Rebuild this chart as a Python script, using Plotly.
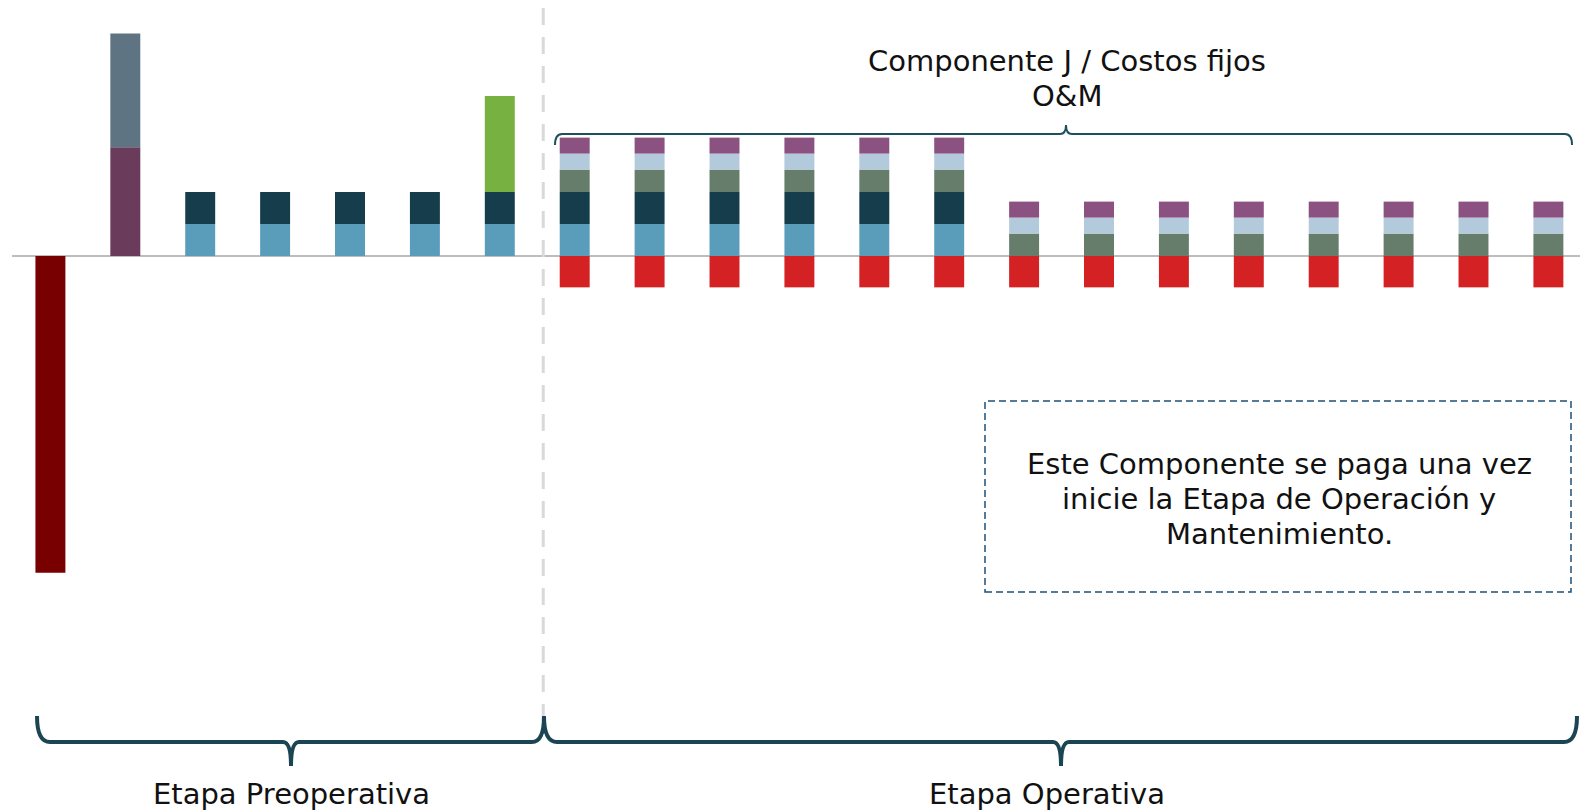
import plotly.graph_objects as go

W, H = 1580, 810
N = None

periodos = list(range(21))

# Etapa preoperativa
inversion          = [-9.9, N, N, N, N, N, N, N, N, N, N, N, N, N, N, N, N, N, N, N, N]
pago_a_purpura     = [N, 3.4, N, N, N, N, N, N, N, N, N, N, N, N, N, N, N, N, N, N, N]
pago_a_gris        = [N, 3.55, N, N, N, N, N, N, N, N, N, N, N, N, N, N, N, N, N, N, N]
comp_azul          = [N, N, 1.0, 1.0, 1.0, 1.0, 1.0, 1.0, 1.0, 1.0, 1.0, 1.0, 1.0, N, N, N, N, N, N, N, N]
comp_navy          = [N, N, 1.0, 1.0, 1.0, 1.0, 1.0, 1.0, 1.0, 1.0, 1.0, 1.0, 1.0, N, N, N, N, N, N, N, N]
comp_lima          = [N, N, N, N, N, N, 3.0, N, N, N, N, N, N, N, N, N, N, N, N, N, N]
# Etapa operativa (Componente J / Costos fijos O&M)
om_verde           = [N, N, N, N, N, N, N, 0.7, 0.7, 0.7, 0.7, 0.7, 0.7, 0.7, 0.7, 0.7, 0.7, 0.7, 0.7, 0.7, 0.7]
om_celeste         = [N, N, N, N, N, N, N, 0.5, 0.5, 0.5, 0.5, 0.5, 0.5, 0.5, 0.5, 0.5, 0.5, 0.5, 0.5, 0.5, 0.5]
om_purpura         = [N, N, N, N, N, N, N, 0.5, 0.5, 0.5, 0.5, 0.5, 0.5, 0.5, 0.5, 0.5, 0.5, 0.5, 0.5, 0.5, 0.5]
om_rojo            = [N, N, N, N, N, N, N, -0.98, -0.98, -0.98, -0.98, -0.98, -0.98, -0.98, -0.98, -0.98, -0.98, -0.98, -0.98, -0.98, -0.98]

titulo_lineas = ["Componente J / Costos fijos", "O&M"]
nota_lineas = ["Este Componente se paga una vez", "inicie la Etapa de Operación y", "Mantenimiento."]
etapas = ["Etapa Preoperativa", "Etapa Operativa"]

series = [
    (inversion, "#780000"),
    (pago_a_purpura, "#6a3b5a"),
    (pago_a_gris, "#5e7482"),
    (comp_azul, "#5a9dbb"),
    (comp_navy, "#163d4b"),
    (comp_lima, "#77b141"),
    (om_verde, "#677d6b"),
    (om_celeste, "#b3cadd"),
    (om_purpura, "#8a5181"),
    (om_rojo, "#d42224"),
]

fig = go.Figure()
for vals, col in series:
    fig.add_trace(go.Bar(x=periodos, y=vals, marker=dict(color=col, line=dict(width=0)),
                         showlegend=False, hoverinfo="skip"))

def px(x):
    return x / W

def py(y):
    return 1 - y / H

def path(cmds):
    out = []
    for c in cmds:
        if isinstance(c, str):
            out.append(c)
        else:
            out.append(f"{px(c[0]):.5f},{py(c[1]):.5f}")
    return " ".join(out)

FONT = "'DejaVu Sans', sans-serif"
FS = 29
BR = "#1b4553"

shapes = [
    # zero line
    dict(type="line", xref="paper", yref="y", x0=px(12), x1=1, y0=0, y1=0,
         line=dict(color="#bdbdbd", width=2), layer="below"),
    # stage separator
    dict(type="line", xref="x", yref="paper", x0=6.58, x1=6.58, y0=py(8), y1=py(722),
         line=dict(color="#d9d9d9", width=3, dash="17px,12px"), layer="below"),
    # top bracket
    dict(type="path", xref="paper", yref="paper",
         path=path(["M", (555, 145), "Q", (555, 134), (562, 134), "L", (1060, 134),
                    "Q", (1066, 134), (1066, 125), "Q", (1066, 134), (1072, 134),
                    "L", (1565, 134), "Q", (1572, 134), (1572, 145)]),
         line=dict(color="#1d4f61", width=2)),
    # bottom left bracket
    dict(type="path", xref="paper", yref="paper",
         path=path(["M", (37, 716), "Q", (37, 742), (50, 742), "L", (283, 742),
                    "Q", (291, 742), (291, 766), "Q", (291, 742), (299, 742),
                    "L", (532, 742), "Q", (544, 742), (544, 716)]),
         line=dict(color=BR, width=4)),
    # bottom right bracket
    dict(type="path", xref="paper", yref="paper",
         path=path(["M", (544, 716), "Q", (544, 742), (557, 742), "L", (1053, 742),
                    "Q", (1061, 742), (1061, 766), "Q", (1061, 742), (1069, 742),
                    "L", (1564, 742), "Q", (1577, 742), (1577, 716)]),
         line=dict(color=BR, width=4)),
    # note box
    dict(type="rect", xref="paper", yref="paper", x0=px(985), x1=px(1571), y0=py(592), y1=py(401),
         line=dict(color="#1f5078", width=1.5, dash="7px,4px")),
]

def ann(text, x, y):
    return dict(text=text, x=px(x), y=py(y), xref="paper", yref="paper",
                xanchor="center", yanchor="middle", showarrow=False, align="center",
                font=dict(family=FONT, size=FS, color="#111111"))

annotations = []
for t, yy in zip(titulo_lineas, [61, 96]):
    annotations.append(ann(t, 1067, yy))
for t, yy in zip(nota_lineas, [464, 499, 534]):
    annotations.append(ann(t, 1279, yy))
for t, xx in zip(etapas, [291, 1047]):
    annotations.append(ann(t, xx, 794))

fig.update_layout(
    width=W, height=H,
    margin=dict(l=0, r=0, t=0, b=0),
    barmode="relative", bargap=0.6,
    paper_bgcolor="white", plot_bgcolor="white",
    xaxis=dict(range=[-0.673, 20.422], visible=False, fixedrange=True),
    yaxis=dict(range=[-17.3125, 8.0], visible=False, fixedrange=True),
    shapes=shapes, annotations=annotations,
    showlegend=False,
)

fig.write_html("out.html", config=dict(displayModeBar=False),
               post_script="document.body.style.margin='0';document.body.style.overflow='hidden';")
